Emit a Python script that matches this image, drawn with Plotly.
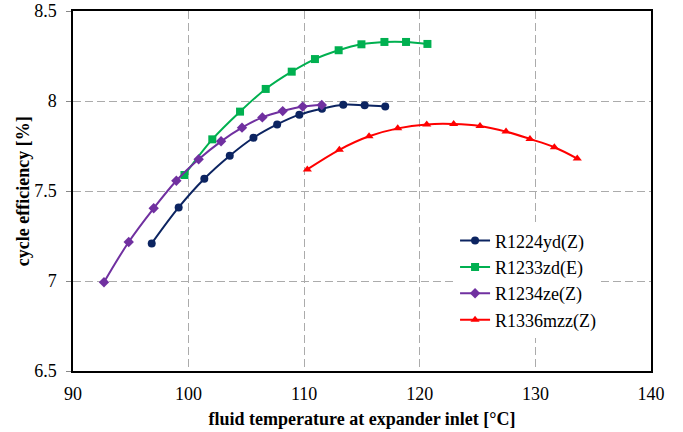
import plotly.graph_objects as go

# R1224yd(Z)
x_1224 = [96.81, 99.14, 101.36, 103.56, 105.61, 107.66, 109.58, 111.54, 113.38, 115.23, 117.01]
y_1224 = [7.209, 7.409, 7.568, 7.696, 7.796, 7.870, 7.924, 7.957, 7.979, 7.976, 7.970]
# R1233zd(E)
x_1233 = [99.64, 102.05, 104.45, 106.67, 108.92, 110.93, 112.98, 114.95, 116.94, 118.81, 120.66]
y_1233 = [7.589, 7.787, 7.941, 8.067, 8.163, 8.233, 8.282, 8.315, 8.328, 8.328, 8.317]
# R1234ze(Z)
x_1234 = [92.68, 94.82, 96.98, 98.94, 100.87, 102.81, 104.62, 106.38, 108.14, 109.87, 111.52]
y_1234 = [6.993, 7.217, 7.404, 7.557, 7.676, 7.776, 7.852, 7.909, 7.944, 7.969, 7.978]
# R1336mzz(Z)
x_1336 = [110.27, 113.04, 115.61, 118.09, 120.60, 122.93, 125.21, 127.46, 129.53, 131.64, 133.62]
y_1336 = [7.620, 7.729, 7.804, 7.848, 7.870, 7.872, 7.861, 7.830, 7.789, 7.743, 7.680]

series = [
    ("R1224yd(Z)", x_1224, y_1224, "#0c2461", "circle"),
    ("R1233zd(E)", x_1233, y_1233, "#00b050", "square"),
    ("R1234ze(Z)", x_1234, y_1234, "#7030a0", "diamond"),
    ("R1336mzz(Z)", x_1336, y_1336, "#ff0000", "triangle-up"),
]

x_ticks = [90, 100, 110, 120, 130, 140]
y_ticks = [6.5, 7, 7.5, 8, 8.5]
y_ticktext = ["6.5", "7", "7.5", "8", "8.5"]

fig = go.Figure()
for name, xs, ys, col, sym in series:
    fig.add_trace(go.Scatter(
        x=xs, y=ys, name=name, mode="lines+markers",
        line=dict(color=col, width=2, shape="spline"),
        marker=dict(symbol=sym, size=8, color=col),
    ))

font_family = "Liberation Serif"
grid_col = "#ababab"
fig.update_layout(
    width=683, height=432,
    margin=dict(l=73, r=32, t=11, b=61),
    paper_bgcolor="white", plot_bgcolor="white",
    font=dict(family=font_family, size=18, color="black"),
    showlegend=True,
    legend=dict(
        x=0.661, y=0.413, xanchor="left", yanchor="top",
        bgcolor="white", borderwidth=0,
        font=dict(family=font_family, size=18, color="black"),
        itemwidth=30, tracegroupgap=0,
    ),
    xaxis=dict(
        range=[90, 140], tickvals=x_ticks, automargin=False,
        showgrid=True, gridcolor=grid_col, griddash="8px,4px", gridwidth=1,
        showline=True, linecolor="black", linewidth=1.5, mirror=True,
        ticks="", zeroline=False, ticklabelstandoff=6,
        title=dict(text="<b>fluid temperature at expander inlet [°C]</b>",
                   font=dict(family=font_family, size=18), standoff=9),
        tickfont=dict(family=font_family, size=18),
    ),
    yaxis=dict(
        range=[6.5, 8.5], tickvals=y_ticks, ticktext=y_ticktext, automargin=False,
        showgrid=True, gridcolor=grid_col, griddash="8px,4px", gridwidth=1,
        showline=True, linecolor="black", linewidth=1.5, mirror=True,
        ticks="outside", ticklen=5, tickcolor="#888888", zeroline=False,
        ticklabelstandoff=6,
        tickfont=dict(family=font_family, size=18),
    ),
    annotations=[dict(
        text="<b>cycle efficiency [%]</b>", textangle=-90,
        x=-0.086, y=0.5, xref="paper", yref="paper",
        xanchor="center", yanchor="middle", showarrow=False,
        font=dict(family=font_family, size=18, color="black"),
    )],
)

fig.write_html("out.html")
